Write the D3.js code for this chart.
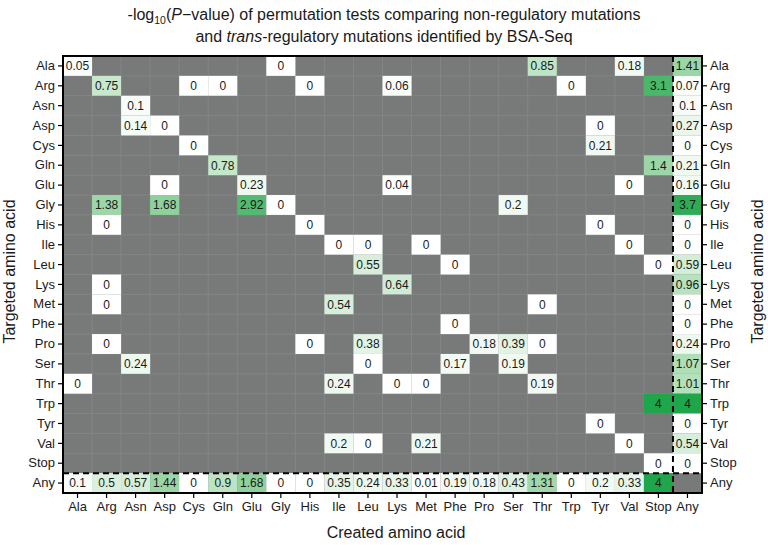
<!DOCTYPE html>
<html>
<head>
<meta charset="utf-8">
<script src="https://cdn.jsdelivr.net/npm/d3@7"></script>
<style>
  html, body { margin: 0; padding: 0; background: #ffffff; }
  svg { display: block; font-family: "Liberation Sans", Arial, sans-serif; }
</style>
</head>
<body>
<svg id="chart" width="768" height="545"></svg>
<script>
// ---- data ----
const aminoAcids = ["Ala","Arg","Asn","Asp","Cys","Gln","Glu","Gly","His","Ile","Leu",
  "Lys","Met","Phe","Pro","Ser","Thr","Trp","Tyr","Val","Stop","Any"];

// [targeted, created, -log10 P]
const sparseCells = [
  ["Ala","Ala",0.05],["Ala","Gly",0],["Ala","Thr",0.85],["Ala","Val",0.18],
  ["Arg","Arg",0.75],["Arg","Cys",0],["Arg","Gln",0],["Arg","His",0],["Arg","Lys",0.06],["Arg","Trp",0],["Arg","Stop",3.1],
  ["Asn","Asn",0.1],
  ["Asp","Asn",0.14],["Asp","Asp",0],["Asp","Tyr",0],
  ["Cys","Cys",0],["Cys","Tyr",0.21],
  ["Gln","Gln",0.78],["Gln","Stop",1.4],
  ["Glu","Asp",0],["Glu","Glu",0.23],["Glu","Lys",0.04],["Glu","Val",0],
  ["Gly","Arg",1.38],["Gly","Asp",1.68],["Gly","Glu",2.92],["Gly","Gly",0],["Gly","Ser",0.2],
  ["His","Arg",0],["His","His",0],["His","Tyr",0],
  ["Ile","Ile",0],["Ile","Leu",0],["Ile","Met",0],["Ile","Val",0],
  ["Leu","Leu",0.55],["Leu","Phe",0],["Leu","Stop",0],
  ["Lys","Arg",0],["Lys","Lys",0.64],
  ["Met","Arg",0],["Met","Ile",0.54],["Met","Thr",0],
  ["Phe","Phe",0],
  ["Pro","Arg",0],["Pro","His",0],["Pro","Leu",0.38],["Pro","Pro",0.18],["Pro","Ser",0.39],["Pro","Thr",0],
  ["Ser","Asn",0.24],["Ser","Leu",0],["Ser","Phe",0.17],["Ser","Ser",0.19],
  ["Thr","Ala",0],["Thr","Ile",0.24],["Thr","Lys",0],["Thr","Met",0],["Thr","Thr",0.19],
  ["Trp","Stop",4],
  ["Tyr","Tyr",0],
  ["Val","Ile",0.2],["Val","Leu",0],["Val","Met",0.21],["Val","Val",0],
  ["Stop","Stop",0]
];

// "Any" created column, one value per targeted amino acid (Ala..Stop)
const anyCreated = [1.41,0.07,0.1,0.27,0,0.21,0.16,3.7,0,0,0.59,0.96,0,0,0.24,1.07,1.01,4,0,0.54,0];
// "Any" targeted row, one value per created amino acid (Ala..Stop)
const anyTargeted = [0.1,0.5,0.57,1.44,0,0.9,1.68,0,0,0.35,0.24,0.33,0.01,0.19,0.18,0.43,1.31,0,0.2,0.33,4];

// ---- build cell table ----
const cells = sparseCells.map(d => ({row: d[0], col: d[1], value: d[2]}));
aminoAcids.slice(0, 21).forEach((aa, i) => {
  cells.push({row: aa, col: "Any", value: anyCreated[i]});
  cells.push({row: "Any", col: aa, value: anyTargeted[i]});
});

// ---- layout ----
const W = 768, H = 545;
const margin = {top: 56, right: 66, bottom: 52, left: 63};
const pw = W - margin.left - margin.right;
const ph = H - margin.top - margin.bottom;

const svg = d3.select("#chart");
const g = svg.append("g").attr("transform", `translate(${margin.left},${margin.top})`);

const x = d3.scaleBand().domain(aminoAcids).range([0, pw]).padding(0);
const y = d3.scaleBand().domain(aminoAcids).range([0, ph]).padding(0);
const color = d3.scaleLinear().domain([0, 1.2, 4]).range(["#ffffff", "#a6daae", "#1fa64a"]).clamp(true);

// background
g.append("rect").attr("width", pw).attr("height", ph).attr("fill", "#787a7a");

// grid lines at cell boundaries
const bounds = aminoAcids.slice(1);
g.append("g").selectAll("line").data(bounds).join("line")
  .attr("x1", d => x(d)).attr("x2", d => x(d)).attr("y1", 0).attr("y2", ph)
  .attr("stroke", "#838686").attr("stroke-width", 1);
g.append("g").selectAll("line").data(bounds).join("line")
  .attr("y1", d => y(d)).attr("y2", d => y(d)).attr("x1", 0).attr("x2", pw)
  .attr("stroke", "#838686").attr("stroke-width", 1);

// cells
g.append("g").selectAll("rect").data(cells).join("rect")
  .attr("x", d => x(d.col)).attr("y", d => y(d.row))
  .attr("width", x.bandwidth()).attr("height", y.bandwidth())
  .attr("fill", d => color(d.value));

g.append("g").selectAll("text").data(cells).join("text")
  .attr("x", d => x(d.col) + x.bandwidth() / 2)
  .attr("y", d => y(d.row) + y.bandwidth() / 2)
  .attr("dy", "0.36em")
  .attr("text-anchor", "middle")
  .attr("font-size", 12)
  .attr("fill", "#1a1a1a")
  .text(d => String(d.value));

// dashed separators
g.append("line")
  .attr("x1", x("Any")).attr("x2", x("Any")).attr("y1", 0).attr("y2", ph)
  .attr("stroke", "#000").attr("stroke-width", 2).attr("stroke-dasharray", "6,4");
g.append("line")
  .attr("x1", 0).attr("x2", pw).attr("y1", y("Any")).attr("y2", y("Any"))
  .attr("stroke", "#000").attr("stroke-width", 2).attr("stroke-dasharray", "6,4");

// border
g.append("rect").attr("width", pw).attr("height", ph)
  .attr("fill", "none").attr("stroke", "#000").attr("stroke-width", 2);

// axes
function styleAxis(sel) {
  sel.select(".domain").remove();
  sel.selectAll(".tick line").attr("stroke", "#000").attr("stroke-width", 1.2);
  sel.selectAll(".tick text").attr("font-size", 13).attr("fill", "#1a1a1a")
    .attr("font-family", "Liberation Sans, Arial, sans-serif");
}
g.append("g").attr("transform", `translate(0,${ph})`)
  .call(d3.axisBottom(x).tickSize(5).tickPadding(4)).call(styleAxis);
g.append("g")
  .call(d3.axisLeft(y).tickSize(5).tickPadding(3)).call(styleAxis);
g.append("g").attr("transform", `translate(${pw},0)`)
  .call(d3.axisRight(y).tickSize(5).tickPadding(3)).call(styleAxis);

// axis titles
svg.append("text").attr("x", 396).attr("y", 538)
  .attr("text-anchor", "middle").attr("font-size", 16).attr("fill", "#1a1a1a")
  .text("Created amino acid");
svg.append("text").attr("transform", `translate(15,${margin.top + ph / 2 - 3}) rotate(-90)`)
  .attr("text-anchor", "middle").attr("font-size", 16).attr("fill", "#1a1a1a")
  .text("Targeted amino acid");
svg.append("text").attr("transform", `translate(763,${margin.top + ph / 2 - 3}) rotate(-90)`)
  .attr("text-anchor", "middle").attr("font-size", 16).attr("fill", "#1a1a1a")
  .text("Targeted amino acid");

// title
const t1 = svg.append("text").attr("x", 384).attr("y", 20).attr("text-anchor", "middle")
  .attr("font-size", 16).attr("fill", "#1a1a1a");
t1.append("tspan").text("-log");
t1.append("tspan").attr("font-size", 10.5).attr("dy", 4).text("10");
t1.append("tspan").attr("dy", -4).text("(");
t1.append("tspan").attr("font-style", "italic").text("P");
t1.append("tspan").text("\u2212value) of permutation tests comparing non-regulatory mutations");

const t2 = svg.append("text").attr("x", 384).attr("y", 42).attr("text-anchor", "middle")
  .attr("font-size", 16).attr("fill", "#1a1a1a");
t2.append("tspan").text("and ");
t2.append("tspan").attr("font-style", "italic").text("trans");
t2.append("tspan").text("-regulatory mutations identified by BSA-Seq");
</script>
</body>
</html>
